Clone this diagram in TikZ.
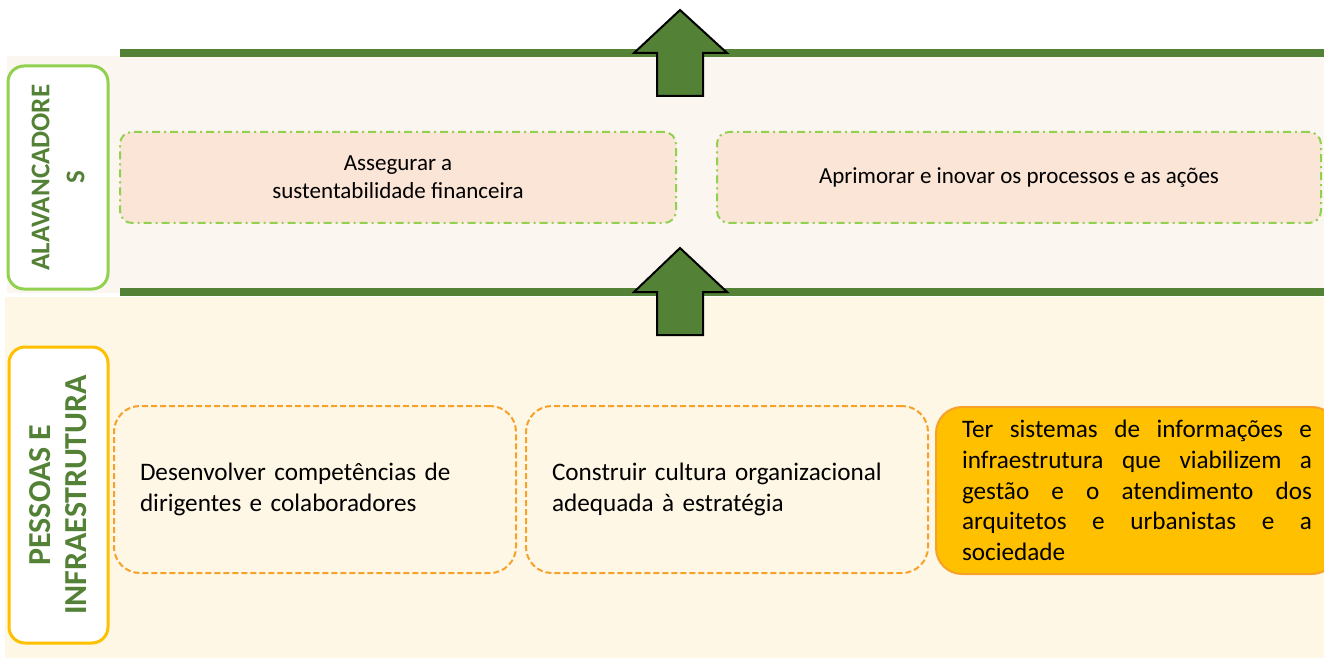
\documentclass[tikz,border=0pt]{standalone}
\usepackage{fontspec}
\setmainfont{Carlito}
\usepackage{tikz}
\definecolor{darkgreen}{HTML}{538135}
\definecolor{lightgreen}{HTML}{92D050}
\definecolor{peach}{HTML}{FBE5D6}
\definecolor{beige}{HTML}{FBF6F0}
\definecolor{cream}{HTML}{FFF7E6}
\definecolor{gold}{HTML}{FFC000}
\definecolor{dashorange}{HTML}{F5A12A}
\tikzstyle{level}=[draw, line width=1.5pt, rounded corners=8pt, fill=white, rotate=90,
  align=center, font=\bfseries, text=darkgreen]
\tikzstyle{lever}=[draw=lightgreen, fill=peach, line width=1pt, rounded corners=6pt,
  dash pattern=on 4pt off 2pt on 1pt off 2pt, minimum height=45.5pt, align=center,
  font=\fontsize{11.5}{14}\selectfont]
\tikzstyle{goal}=[draw=dashorange, line width=1pt, rounded corners=13pt,
  dash pattern=on 3pt off 1.5pt, minimum width=201pt, minimum height=83.5pt,
  inner xsep=13pt, text width=175pt, align=left, font=\fontsize{12.6}{15.3}\selectfont]
\tikzstyle{bar}=[darkgreen, line width=4pt]
\tikzstyle{bigarrow}=[draw=black, fill=darkgreen, line width=1pt, line join=miter]
\newcommand{\fullline}[1]{\makebox[175pt][l]{#1}}

\begin{document}
\begin{tikzpicture}[x=0.5pt, y=-0.5pt]
        \useasboundingbox (0,0) rectangle (1324,658);
        \clip (0,0) rectangle (1324,658);
        % bands
        \fill[beige] (7,56) rectangle (1324,293);
        \fill[cream] (5,297) rectangle (1324,658);
        \draw[bar] (120,53) -- (1324,53);
        \draw[bar] (120,292) -- (1324,292);
        % levels
        \node[level, draw=lightgreen, minimum width=111.5pt, minimum height=50pt,
          font=\fontsize{13.5}{17.5}\selectfont\bfseries] (alav) at (58,177.5) {ALAVANCADORE\\S};
        \node[level, draw=gold, minimum width=148pt, minimum height=49.5pt,
          font=\fontsize{16}{18}\selectfont\bfseries] (pess) at (58.5,495) {PESSOAS E\\INFRAESTRUTURA};
        % alavancadores
        \node[lever, minimum width=278pt] (fin) at (398,177.5) {Assegurar a\\sustentabilidade financeira};
        \node[lever, minimum width=302pt] (proc) at (1019,177.5) {Aprimorar e inovar os processos e as ações};
        % pessoas e infraestrutura
        \node[goal] (comp) at (315,489.5) {Desenvolver competências de\\dirigentes e colaboradores};
        \node[goal] (cult) at (727,489.5) {Construir cultura organizacional\\adequada à estratégia};
        \node[goal, draw=dashorange, solid, fill=gold, anchor=north west] (sist) at (935,406)
          {\fullline{Ter\hfill sistemas\hfill de\hfill informações\hfill e}\\
           \fullline{infraestrutura\hfill que\hfill viabilizem\hfill a}\\
           \fullline{gestão\hfill e\hfill o\hfill atendimento\hfill dos}\\
           \fullline{arquitetos\hfill e\hfill urbanistas\hfill e\hfill a}\\
           sociedade};
        % arrows
        \draw[bigarrow] (680,10) -- (727,53) -- (703,53) -- (703,96) -- (657,96) -- (657,53) -- (634,53) -- cycle;
        \draw[bigarrow] (680,248) -- (727,292) -- (703,292) -- (703,335) -- (657,335) -- (657,292) -- (634,292) -- cycle;
    \end{tikzpicture}
\end{document}
